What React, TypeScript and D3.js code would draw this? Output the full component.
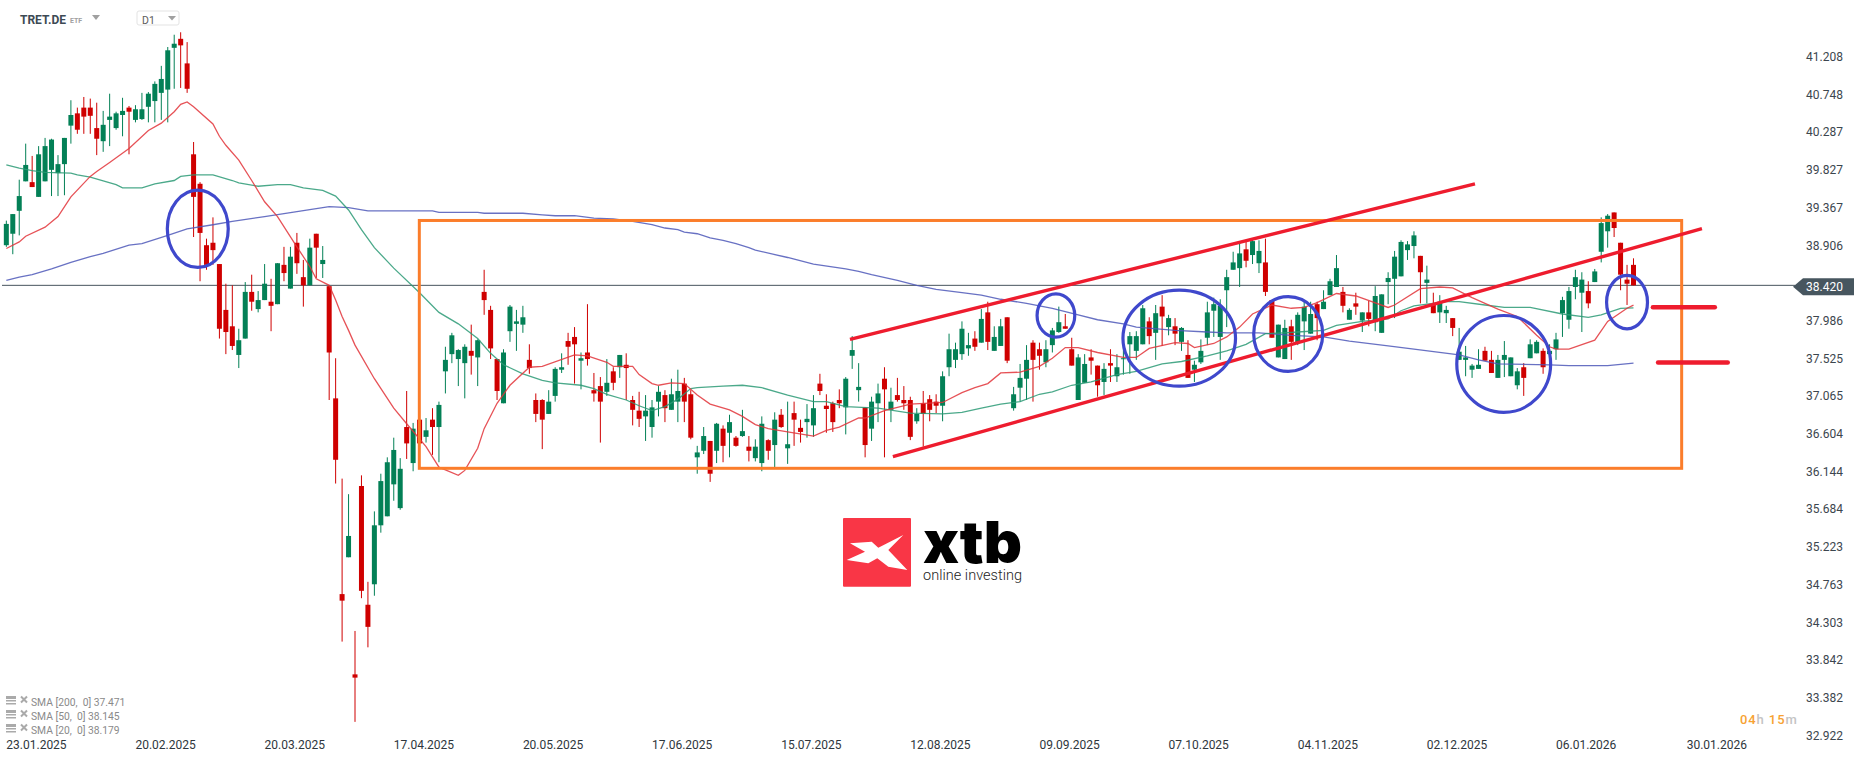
import React from "react";
import * as d3 from "d3";

const highs = [
39.21,39.29,39.71,40.15,40.0,40.12,40.22,40.21,40.01,40.22,
40.68,40.59,40.72,40.70,40.65,40.55,40.76,40.54,40.71,40.61,
40.62,40.77,40.78,40.91,41.10,41.33,41.48,41.51,41.39,40.17,
39.68,38.99,39.25,38.68,38.44,38.42,37.89,38.46,38.55,38.35,
38.68,38.50,38.69,38.89,38.89,39.06,38.73,38.99,39.05,38.90,
38.42,37.53,36.06,35.87,34.20,36.10,34.80,35.66,36.12,36.32,
36.56,36.31,37.13,36.74,36.78,36.80,36.92,37.0,37.67,37.84,
37.64,37.70,37.94,37.76,38.61,38.17,37.52,37.64,38.18,38.12,
38.17,37.70,37.10,37.03,37.14,37.42,37.59,37.84,37.91,37.60,
38.19,37.35,37.30,37.52,37.42,37.57,37.59,37.07,37.12,37.08,
37.02,37.19,37.14,37.28,37.39,37.29,37.14,36.46,36.69,36.52,
36.74,36.71,36.84,36.58,36.90,36.58,36.54,36.82,36.54,36.87,
36.91,37.0,37.0,36.78,36.97,37.08,37.34,37.09,37.0,37.15,
37.30,37.80,37.47,36.93,37.06,37.22,37.42,37.17,37.29,37.19,
37.06,36.92,37.13,37.08,37.09,37.37,37.83,37.72,37.98,37.84,
37.86,38.13,38.22,37.92,38.01,38.03,37.18,37.46,37.69,37.75,
37.72,37.75,37.90,38.16,38.07,37.78,37.58,37.58,37.64,37.44,
37.47,37.64,37.58,37.76,37.85,37.86,38.18,38.03,38.18,38.30,
38.06,38.02,37.91,37.75,37.50,37.76,38.22,38.27,38.25,38.61,
38.83,38.94,38.97,38.99,38.97,38.99,38.24,37.94,38.0,38.0,
38.09,38.22,38.22,38.22,38.36,38.50,38.79,38.40,38.14,38.33,
38.09,38.23,38.41,38.31,38.58,38.84,38.97,38.96,39.08,38.78,
38.66,38.33,38.30,38.17,38.02,37.90,37.68,37.46,37.64,37.67,
37.62,37.57,37.74,37.54,37.41,37.47,37.76,37.75,37.65,37.70,
37.84,38.28,38.40,38.61,38.58,38.47,38.62,39.25,39.29,39.31,
38.94,38.67,38.75];

const lows = [
38.89,38.80,39.03,39.69,39.62,39.5,39.69,39.51,39.51,39.52,
40.15,40.27,40.27,40.27,40.01,40.05,40.12,40.32,40.24,40.02,
40.41,40.44,40.41,40.41,40.44,40.41,40.82,40.83,40.77,39.01,
38.47,38.61,38.67,37.77,37.58,37.63,37.41,37.77,38.11,38.09,
38.24,37.86,38.19,38.47,38.38,38.56,38.16,38.42,38.51,38.51,
37.02,36.0,34.07,35.10,33.09,34.60,34.0,34.63,35.40,35.60,
35.79,35.68,36.30,36.15,36.49,36.50,36.35,36.26,37.10,37.47,
37.19,37.04,37.33,37.19,38.06,37.52,37.02,36.98,37.73,37.62,
37.84,37.34,36.75,36.42,36.85,37.0,37.35,37.45,37.22,37.15,
37.44,37.0,36.50,37.07,37.14,37.29,37.02,36.71,36.69,36.52,
36.56,36.82,36.75,36.90,36.75,36.75,36.54,36.12,36.36,36.02,
36.25,36.26,36.32,36.45,36.57,36.27,36.27,36.15,36.29,36.20,
36.68,36.24,36.46,36.50,36.56,36.57,37.08,36.62,36.63,36.92,
36.60,37.40,37.0,36.32,36.52,36.75,36.32,36.75,37.0,36.90,
36.53,36.73,36.45,36.76,36.86,36.76,37.31,37.41,37.51,37.56,
37.62,37.72,37.63,37.62,37.68,37.47,36.89,37.0,37.02,37.0,
37.39,37.42,37.60,37.84,37.89,37.44,37.02,37.23,37.33,37.06,
37.08,37.24,37.24,37.33,37.34,37.51,37.70,37.70,37.51,37.68,
37.81,37.69,37.62,37.29,37.24,37.46,37.69,37.79,37.51,37.91,
38.61,38.40,38.64,38.68,38.57,38.29,37.78,37.54,37.52,37.51,
37.69,37.63,37.83,37.75,38.13,38.30,38.40,38.09,38.0,38.06,
37.85,37.92,37.86,37.84,38.19,38.02,38.53,38.73,38.75,38.20,
38.20,38.08,37.96,37.96,37.80,37.51,37.31,37.29,37.40,37.50,
37.35,37.29,37.30,37.31,37.15,37.07,37.53,37.59,37.34,37.51,
37.51,37.79,37.89,38.25,37.85,38.14,38.46,38.70,38.88,39.01,
38.36,38.18,38.42];

const opens = [
38.91,39.05,39.33,39.69,39.68,39.5,39.69,39.83,39.79,39.9,
40.37,40.52,40.59,40.59,40.34,40.18,40.44,40.34,40.5,40.59,
40.44,40.45,40.60,40.67,40.77,40.81,41.32,41.43,41.13,40.02,
39.66,38.91,38.94,38.68,38.12,37.92,37.57,37.77,38.34,38.13,
38.24,38.22,38.19,38.67,38.38,38.94,38.52,38.42,39.05,38.68,
38.41,37.04,34.65,35.10,33.67,35.97,34.52,34.77,35.49,35.60,
35.99,35.70,36.69,36.25,36.78,36.57,36.78,36.69,37.37,37.58,
37.52,37.47,37.62,37.54,38.34,38.12,37.52,36.98,37.86,37.95,
37.94,37.51,37.02,37.02,36.85,37.07,37.39,37.74,37.79,37.50,
37.60,37.14,37.19,37.12,37.37,37.42,37.45,37.02,36.89,36.82,
36.69,37.0,37.08,36.90,37.0,37.22,37.09,36.32,36.40,36.52,
36.40,36.67,36.62,36.56,36.58,36.45,36.31,36.25,36.53,36.47,
36.84,36.43,36.86,36.68,36.75,36.71,37.22,36.95,36.98,37.02,
36.93,37.56,37.14,36.93,36.67,36.98,37.28,36.90,37.08,37.02,
37.02,36.76,36.98,37.03,37.0,36.95,37.42,37.51,37.58,37.65,
37.77,37.72,38.09,37.62,37.68,38.03,36.92,37.17,37.28,37.72,
37.64,37.48,37.69,37.85,37.92,37.64,37.02,37.23,37.54,37.44,
37.24,37.47,37.31,37.52,37.70,37.62,37.70,37.98,37.84,38.16,
37.91,37.92,37.73,37.57,37.39,37.48,37.78,38.11,37.79,38.36,
38.61,38.63,38.86,38.79,38.69,38.70,38.24,37.54,37.52,37.92,
37.72,37.98,37.83,38.19,38.13,38.30,38.40,38.34,38.0,38.20,
37.99,38.09,37.97,37.84,38.46,38.50,38.53,38.85,38.90,38.78,
38.45,38.19,38.09,38.08,38.02,37.51,37.51,37.39,37.40,37.62,
37.51,37.29,37.51,37.31,37.20,37.42,37.53,37.59,37.62,37.58,
37.64,38.08,38.0,38.40,38.33,38.35,38.46,38.83,39.08,39.31,
38.94,38.49,38.67];

const closes = [
39.17,39.29,39.51,39.89,39.62,40.02,40.12,40.2,39.9,40.22,
40.5,40.32,40.48,40.49,40.21,40.38,40.48,40.52,40.55,40.54,
40.57,40.57,40.76,40.88,40.94,41.29,41.37,41.35,40.82,39.50,
39.06,38.67,38.85,37.89,37.85,37.68,37.75,38.34,38.22,38.24,
38.44,38.17,38.69,38.57,38.77,38.69,38.42,38.88,38.88,38.73,
37.60,36.29,34.57,35.36,33.63,34.69,34.25,35.49,36.03,36.26,
36.41,36.18,36.49,36.67,36.49,36.65,36.69,36.96,37.51,37.81,
37.63,37.67,37.56,37.75,38.24,37.65,37.13,37.60,38.16,37.98,
38.03,37.41,36.85,36.78,37.0,37.40,37.42,37.67,37.70,37.53,
37.52,37.10,37.0,37.23,37.23,37.57,37.41,36.90,36.79,36.89,
36.93,37.12,36.92,37.09,37.13,37.0,36.56,36.38,36.58,36.12,
36.73,36.46,36.75,36.46,36.64,36.40,36.45,36.73,36.40,36.78,
36.69,36.48,36.78,36.63,36.79,36.92,37.13,36.91,36.75,36.98,
37.28,37.63,37.18,36.47,37.0,37.10,37.15,37.0,37.02,36.98,
36.57,36.85,36.85,36.90,36.95,37.31,37.64,37.64,37.89,37.69,
37.67,38.01,37.73,37.79,37.92,37.50,37.09,37.29,37.51,37.51,
37.56,37.64,37.87,37.97,37.89,37.44,37.54,37.46,37.50,37.20,
37.40,37.44,37.42,37.53,37.80,37.80,38.14,37.80,38.08,38.04,
38.02,37.83,37.90,37.29,37.45,37.62,38.09,38.19,38.17,38.52,
38.70,38.81,38.72,38.96,38.84,38.34,37.78,37.94,37.90,37.73,
38.06,38.16,38.07,38.02,38.22,38.47,38.63,38.17,38.12,38.16,
38.09,38.01,38.29,38.31,38.51,38.77,38.95,38.92,39.03,38.58,
38.49,38.08,38.22,38.12,37.90,37.61,37.54,37.44,37.45,37.50,
37.35,37.51,37.57,37.54,37.37,37.29,37.70,37.73,37.42,37.62,
37.76,38.24,38.35,38.52,38.49,38.20,38.59,39.18,39.27,39.12,
38.55,38.44,38.42];

const sma200Bars = [0,2,4,7,10,13,15,19,21,25,28,32,35,40,45,50,53,56,66,67,73,74,80,83,85,88,91,94,97,100,102,104,105,107,109,111,113,115,116,121,125,130,132,134,138,141,144,148,151,154,158,162,166,169,173,175,181,186,189,194,199,204,208,214,218,225,228,231,239,242,248,252];
const sma200Values = [38.48,38.52,38.55,38.62,38.70,38.77,38.81,38.91,38.93,39.03,39.11,39.16,39.20,39.26,39.32,39.38,39.37,39.33,39.33,39.31,39.31,39.30,39.30,39.28,39.27,39.27,39.24,39.23,39.20,39.16,39.12,39.10,39.07,39.05,39.0,38.97,38.93,38.88,38.85,38.76,38.68,38.62,38.59,38.55,38.48,38.42,38.37,38.33,38.30,38.25,38.20,38.14,38.06,38.0,37.95,37.91,37.87,37.85,37.84,37.84,37.81,37.79,37.74,37.68,37.64,37.57,37.51,37.46,37.45,37.44,37.44,37.471];

const sma50Bars = [0,2,4,6,10,11,13,17,18,21,23,26,27,29,32,35,36,39,42,44,46,49,51,53,55,57,60,64,67,70,73,75,77,80,83,85,89,91,93,96,98,100,102,104,106,107,111,114,117,121,125,127,130,135,140,145,148,151,154,157,160,162,165,168,172,175,179,182,186,189,192,195,198,200,204,206,210,214,216,218,223,225,229,232,236,241,245,247,250,252];
const sma50Values = [39.89,39.85,39.82,39.80,39.79,39.77,39.74,39.65,39.61,39.61,39.66,39.70,39.75,39.77,39.77,39.70,39.67,39.63,39.65,39.65,39.61,39.58,39.51,39.34,39.10,38.88,38.63,38.33,38.09,37.95,37.77,37.59,37.45,37.34,37.26,37.23,37.20,37.16,37.09,37.02,36.95,36.89,36.94,37.03,37.16,37.17,37.19,37.20,37.17,37.08,37.0,37.0,36.94,36.92,36.86,36.85,36.87,36.92,36.97,37.0,37.09,37.12,37.20,37.24,37.33,37.37,37.46,37.49,37.56,37.62,37.70,37.83,37.84,37.85,37.87,37.93,37.98,38.01,38.11,38.17,38.22,38.22,38.18,38.15,38.15,38.07,38.03,38.06,38.14,38.145];

const sma20Bars = [0,2,3,6,8,10,13,14,16,19,22,24,26,27,28,29,32,33,34,36,38,40,42,45,47,48,50,51,52,53,54,57,60,62,65,67,70,71,73,74,76,78,81,83,88,90,93,94,97,98,100,101,103,105,107,109,112,114,116,118,121,125,127,129,132,133,136,140,145,148,150,152,154,157,160,162,164,166,169,173,175,177,181,183,184,187,189,191,193,196,199,201,203,206,209,214,215,219,222,224,227,231,234,237,239,240,242,246,248,251,252];
const sma20Values = [38.87,38.95,39.02,39.13,39.26,39.50,39.75,39.81,39.92,40.09,40.31,40.40,40.54,40.63,40.66,40.60,40.39,40.24,40.13,39.95,39.70,39.44,39.26,38.89,38.65,38.50,38.42,38.24,38.04,37.87,37.69,37.28,36.92,36.73,36.45,36.20,36.10,36.16,36.43,36.67,36.98,37.20,37.42,37.43,37.57,37.56,37.48,37.43,37.43,37.33,37.22,37.20,37.23,37.22,37.08,36.97,36.90,36.82,36.72,36.67,36.63,36.58,36.65,36.69,36.80,36.80,36.89,36.97,36.99,37.11,37.17,37.22,37.35,37.36,37.43,37.53,37.66,37.66,37.60,37.54,37.54,37.65,37.72,37.71,37.66,37.71,37.79,37.91,38.07,38.18,38.14,38.15,38.21,38.32,38.29,38.15,38.18,38.38,38.40,38.39,38.27,38.13,38.04,37.81,37.67,37.64,37.64,37.75,37.98,38.14,38.179];

const priceTicks = ["41.208","40.748","40.287","39.827","39.367","38.906","37.986","37.525","37.065","36.604","36.144","35.684","35.223","34.763","34.303","33.842","33.382","32.922"];
const dateLabels = ["23.01.2025","20.02.2025","20.03.2025","17.04.2025","20.05.2025","17.06.2025","15.07.2025","12.08.2025","09.09.2025","07.10.2025","04.11.2025","02.12.2025","06.01.2026","30.01.2026"];
const dateBarStep = 20;
const lastPrice = 38.42;
const legendLabels = ["SMA [200,  0] 37.471", "SMA [50,  0] 38.145", "SMA [20,  0] 38.179"];

// Drawn annotations, in chart units (bar number, price)
const zoneBars = [63.96, 259.46];
const zonePrices = [39.212, 36.186];
const upperChannelBars = [130.66, 227.45];
const upperChannelPrices = [37.761, 39.66];
const lowerChannelBars = [137.3, 262.6];
const lowerChannelPrices = [36.328, 39.112];
const levelBars = [[255.0, 264.6], [255.8, 266.6]];
const levelPrices = [38.152, 37.478];
const circleBarsFrom = [24.7, 159.4, 172.7, 192.95, 224.4, 247.6];
const circleBarsTo = [34.6, 165.7, 190.6, 204.1, 239.4, 254.4];
const circlePriceTop = [39.60, 38.335, 38.38, 38.30, 38.07, 38.56];
const circlePriceBottom = [38.62, 37.77, 37.17, 37.35, 36.85, 37.87];

const W = 1866;
const H = 761;
const UP = "#038056";
const DOWN = "#cf0000";
const FONT = "Roboto, sans-serif";

const x = d3.scaleLinear().domain([0, 252]).range([6.33, 6.33 + 252 * 6.457]);
const y = d3.scaleLinear().domain([41.904, 41.904 - 761 * 0.01221]).range([0, 761]);

function smaPath(bars: number[], values: number[]) {
  const line = d3.line<number>().x((b) => x(b)).y((_, i) => y(values[i]));
  return line(bars) || "";
}

export default function App() {
  const lastY = y(lastPrice);
  return (
    <svg width={W} height={H} viewBox={`0 0 ${W} ${H}`} style={{ position: "fixed", left: 0, top: 0, background: "#fff" }} fontFamily={FONT}>
      {/* last price line */}
      <line x1={2} x2={1795} y1={lastY} y2={lastY} stroke="#46535d" strokeWidth={1} />

      {/* candles */}
      {closes.map((c, i) => {
        const o = opens[i];
        const col = c >= o ? UP : DOWN;
        const top = y(Math.max(o, c));
        const bot = y(Math.min(o, c));
        return (
          <g key={i}>
            <line x1={x(i)} x2={x(i)} y1={y(highs[i])} y2={y(lows[i])} stroke={col} strokeWidth={1} />
            <rect x={x(i) - 2.5} width={5} y={top} height={Math.max(bot - top, 1)} fill={col} />
          </g>
        );
      })}

      {/* moving averages */}
      <path d={smaPath(sma200Bars, sma200Values)} fill="none" stroke="#4e58b8" strokeWidth={1.3} strokeOpacity={0.85} />
      <path d={smaPath(sma50Bars, sma50Values)} fill="none" stroke="#2b9a76" strokeWidth={1.3} strokeOpacity={0.85} />
      <path d={smaPath(sma20Bars, sma20Values)} fill="none" stroke="#e2343a" strokeWidth={1.3} strokeOpacity={0.85} />

      {/* orange zone */}
      <rect x={x(zoneBars[0])} y={y(zonePrices[0])} width={x(zoneBars[1]) - x(zoneBars[0])} height={y(zonePrices[1]) - y(zonePrices[0])} fill="none" stroke="#fb7d2b" strokeWidth={3} />

      {/* channel and level lines */}
      <line x1={x(upperChannelBars[0])} y1={y(upperChannelPrices[0])} x2={x(upperChannelBars[1])} y2={y(upperChannelPrices[1])} stroke="#ee1c2e" strokeWidth={3.4} />
      <line x1={x(lowerChannelBars[0])} y1={y(lowerChannelPrices[0])} x2={x(lowerChannelBars[1])} y2={y(lowerChannelPrices[1])} stroke="#ee1c2e" strokeWidth={3.4} />
      {levelPrices.map((p, i) => (
        <line key={i} x1={x(levelBars[i][0])} x2={x(levelBars[i][1])} y1={y(p)} y2={y(p)} stroke="#ee1c2e" strokeWidth={4.4} strokeLinecap="round" />
      ))}

      {/* circles */}
      {circleBarsFrom.map((b, i) => {
        const l = x(b), r = x(circleBarsTo[i]), t = y(circlePriceTop[i]), bt = y(circlePriceBottom[i]);
        return <ellipse key={i} cx={(l + r) / 2} cy={(t + bt) / 2} rx={(r - l) / 2 - 1.5} ry={(bt - t) / 2 - 1.5} fill="none" stroke="#3f48cc" strokeWidth={3.2} />;
      })}

      {/* price axis */}
      {priceTicks.map((t) => (
        <text key={t} x={1806} y={y(+t)} dominantBaseline="central" fontSize={12} fill="#3c464e">{t}</text>
      ))}
      <path d={`M1793 ${lastY + 1.5} L1803 ${lastY - 7} H1854 V${lastY + 10} H1803 Z`} fill="#47565f" />
      <text x={1806} y={lastY + 2} dominantBaseline="central" fontSize={12} fill="#fff">38.420</text>

      {/* date axis */}
      {dateLabels.map((d, i) => (
        <text key={d} x={x(i * dateBarStep) + (i === dateLabels.length - 1 ? 1.5 : 0)} y={749} fontSize={12} fill="#2e363c">{d}</text>
      ))}

      {/* timer */}
      <text x={1740} y={724} fontSize={13} fontWeight={500} letterSpacing={0.9}>
        <tspan fill="#f7a233">04</tspan><tspan fill="#c4c4c4">h </tspan><tspan fill="#f7a233">15</tspan><tspan fill="#c4c4c4">m</tspan>
      </text>

      {/* indicator legend */}
      {legendLabels.map((l, i) => {
        const by = 705.5 + i * 14;
        return (
          <g key={l}>
            <rect x={6} y={by - 9.5} width={10} height={3} fill="#aaa" />
            <rect x={6} y={by - 5.5} width={10} height={1.5} fill="#aaa" />
            <rect x={6} y={by - 2.5} width={10} height={1.5} fill="#aaa" />
            <path d={`M21 ${by - 9} L27 ${by - 3} M27 ${by - 9} L21 ${by - 3}`} stroke="#aaa" strokeWidth={2} />
            <text x={31} y={by} fontSize={10.3} fill="#8a8a8a" style={{ whiteSpace: "pre" }}>{l}</text>
          </g>
        );
      })}

      {/* header */}
      <text x={20} y={24} fontSize={12} fontWeight={700} fill="#3d4a54">TRET.DE</text>
      <text x={70} y={23} fontSize={7} fontWeight={700} fill="#a0a0a0">ETF</text>
      <path d="M92 15 H100 L96 20 Z" fill="#a0a0a0" />
      <rect x={137} y={11} width={42} height={14} rx={2} fill="#fff" stroke="#e3e3e3" />
      <text x={142} y={24} fontSize={10.5} fill="#5c5c5c">D1</text>
      <path d="M168 16 H176 L172 20.5 Z" fill="#a0a0a0" />

      {/* logo */}
      <rect x={843} y={518} width={68} height={68.7} rx={1} fill="#f93646" />
      <path d="M850 543.3 L871.7 541.7 L878.3 547.7 L903.3 535 L888.3 550 L907.3 570 L888.3 566.7 L877.3 558.3 L868.3 563.3 L846.7 560 L865 551.7 Z" fill="#fff" />
      <text x={923} y={563.3} fontFamily="Inter, sans-serif" fontSize={58} fontWeight={900} fill="#000" textLength={99} lengthAdjust="spacingAndGlyphs">xtb</text>
      <text x={923} y={580} fontSize={14.5} fontWeight={300} fill="#222" textLength={99} lengthAdjust="spacing">online investing</text>
    </svg>
  );
}
